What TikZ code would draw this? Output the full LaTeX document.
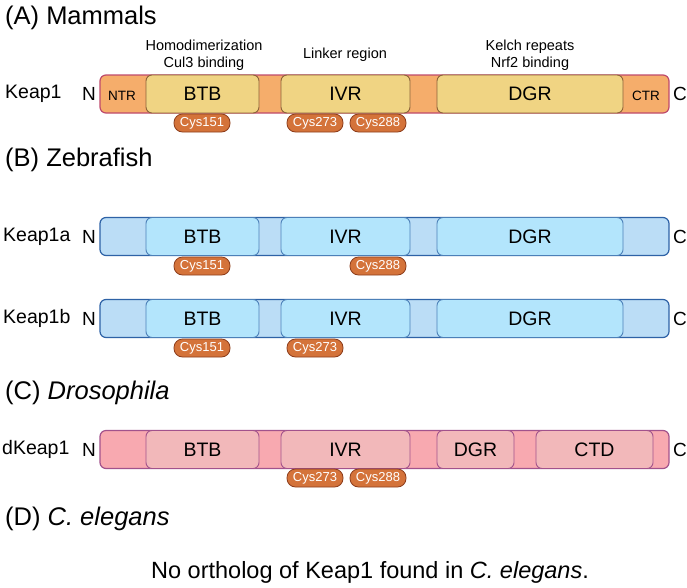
\documentclass[tikz,border=0pt]{standalone}
\usepackage{fontspec}
\setmainfont{Liberation Sans}
\definecolor{mamBar}{HTML}{F5AD6B}
\definecolor{mamBarD}{HTML}{BF4A6C}
\definecolor{mamDom}{HTML}{F0D483}
\definecolor{mamDomD}{HTML}{8C6239}
\definecolor{zebBar}{HTML}{BBDDF6}
\definecolor{zebBarD}{HTML}{2E62A6}
\definecolor{zebDom}{HTML}{B3E5FC}
\definecolor{zebDomD}{HTML}{4C80B8}
\definecolor{droBar}{HTML}{F8A9B0}
\definecolor{droBarD}{HTML}{A2528C}
\definecolor{droDom}{HTML}{F2B8BA}
\definecolor{droDomD}{HTML}{A2528C}
\definecolor{cysF}{HTML}{D4733A}
\definecolor{cysD}{HTML}{8E3E1C}
\tikzset{
  barbox/.style={rectangle, rounded corners=6pt, line width=1.2pt, minimum height=38pt, inner sep=0pt},
  dombox/.style={rectangle, rounded corners=6pt, line width=0.9pt, minimum height=38pt, inner sep=0pt, font=\fontsize{19.5}{21}\selectfont},
  mbar/.style={barbox, fill=mamBar, draw=mamBarD},
  mdom/.style={dombox, fill=mamDom, draw=mamDomD},
  zbar/.style={barbox, fill=zebBar, draw=zebBarD},
  zdom/.style={dombox, fill=zebDom, draw=zebDomD},
  dbar/.style={barbox, fill=droBar, draw=droBarD},
  ddom/.style={dombox, fill=droDom, draw=droDomD},
  cys/.style={rectangle, rounded corners=8.5pt, fill=cysF, draw=cysD, line width=0.8pt, minimum width=56pt, minimum height=18pt, inner sep=0pt, text=white, font=\fontsize{13}{14}\selectfont},
  title/.style={anchor=west, inner sep=0pt, font=\fontsize{25.5}{27}\selectfont},
  lab/.style={anchor=west, inner sep=0pt, font=\fontsize{19.5}{21}\selectfont},
  term/.style={inner sep=0pt, font=\fontsize{19}{21}\selectfont},
  small/.style={inner sep=0pt, font=\fontsize{13.5}{14}\selectfont},
  ann/.style={inner sep=0pt, align=center, font=\fontsize{14.5}{16.5}\selectfont},
}
\begin{document}
\begin{tikzpicture}[x=1pt,y=-1pt]
\useasboundingbox[fill=white] (0,0) rectangle (687,587);
% (A) Mammals
\node[title] (tA) at (5,18) {(A) Mammals};
\node[ann] (annBTB) at (204,55) {Homodimerization\\Cul3 binding};
\node[ann] (annIVR) at (345,55) {Linker region};
\node[ann] (annDGR) at (530,55) {Kelch repeats\\Nrf2 binding};
\node[lab] (lA) at (5,94) {Keap1};
\node[term] (nA) at (89,94) {N};
\node[mbar, minimum width=569pt] (barA) at (384.5,94) {};
\node[small] (ntr) at (122,96) {NTR};
\node[small] (ctr) at (646,96) {CTR};
\node[mdom, minimum width=113pt] (btbA) at (202.5,94) {BTB};
\node[mdom, minimum width=129pt] (ivrA) at (345.5,94) {IVR};
\node[mdom, minimum width=186pt] (dgrA) at (530,94) {DGR};
\node[term] (cA) at (680,94) {C};
\node[cys] (cA151) at (202,123) {Cys151};
\node[cys] (cA273) at (315,123) {Cys273};
\node[cys] (cA288) at (378,123) {Cys288};
% (B) Zebrafish
\node[title] (tB) at (5,160) {(B) Zebrafish};
\node[lab] (lBa) at (3,236.5) {Keap1a};
\node[term] (nBa) at (89,236.5) {N};
\node[zbar, minimum width=569pt] (barBa) at (384.5,236.5) {};
\node[zdom, minimum width=113pt] (btbBa) at (202.5,236.5) {BTB};
\node[zdom, minimum width=129pt] (ivrBa) at (345.5,236.5) {IVR};
\node[zdom, minimum width=186pt] (dgrBa) at (530,236.5) {DGR};
\node[term] (cBa) at (680,236.5) {C};
\node[cys] (cBa151) at (202,266) {Cys151};
\node[cys] (cBa288) at (378,266) {Cys288};
\node[lab] (lBb) at (3,318.5) {Keap1b};
\node[term] (nBb) at (89,318.5) {N};
\node[zbar, minimum width=569pt] (barBb) at (384.5,318.5) {};
\node[zdom, minimum width=113pt] (btbBb) at (202.5,318.5) {BTB};
\node[zdom, minimum width=129pt] (ivrBb) at (345.5,318.5) {IVR};
\node[zdom, minimum width=186pt] (dgrBb) at (530,318.5) {DGR};
\node[term] (cBb) at (680,318.5) {C};
\node[cys] (cBb151) at (202,348) {Cys151};
\node[cys] (cBb273) at (315,348) {Cys273};
% (C) Drosophila
\node[title] (tC) at (5,393) {(C) \textit{Drosophila}};
\node[lab] (lC) at (2,449.5) {dKeap1};
\node[term] (nC) at (89,449.5) {N};
\node[dbar, minimum width=569pt] (barC) at (384.5,449.5) {};
\node[ddom, minimum width=113pt] (btbC) at (202.5,449.5) {BTB};
\node[ddom, minimum width=129pt] (ivrC) at (345.5,449.5) {IVR};
\node[ddom, minimum width=77pt] (dgrC) at (475.5,449.5) {DGR};
\node[ddom, minimum width=117pt] (ctdC) at (594.5,449.5) {CTD};
\node[term] (cC) at (680,449.5) {C};
\node[cys] (cC273) at (315,478) {Cys273};
\node[cys] (cC288) at (378,478) {Cys288};
% (D) C. elegans
\node[title] (tD) at (5,519) {(D) \textit{C. elegans}};
\node[inner sep=0pt, font=\fontsize{23.5}{25}\selectfont] (none) at (370,572) {No ortholog of Keap1 found in \textit{C. elegans}.};
\end{tikzpicture}
\end{document}
